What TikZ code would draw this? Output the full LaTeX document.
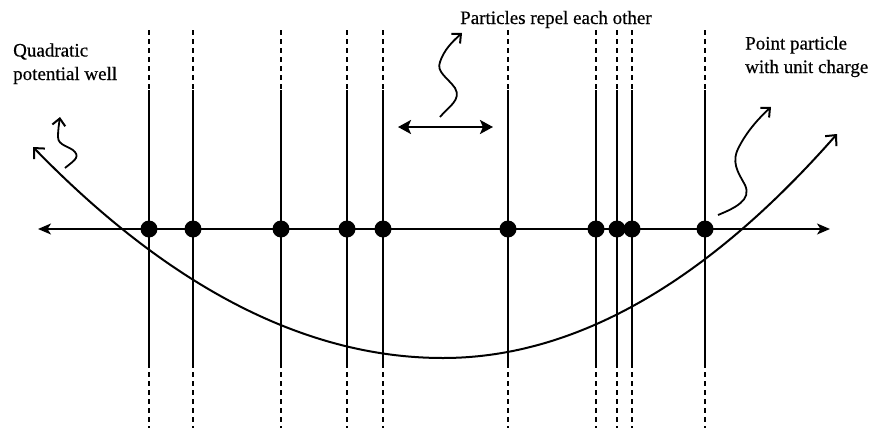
\documentclass[tikz,border=0pt]{standalone}
\usepackage{fontspec}
\setmainfont{Liberation Serif}
\newfontfamily\labelfont{Liberation Serif}[FakeBold=0.5]
\usetikzlibrary{arrows.meta}
\begin{document}
\begin{tikzpicture}[x=1pt,y=-1pt,
  particle/.style={circle,fill=black,inner sep=0pt,minimum size=17pt},
  solidline/.style={line width=1.8pt},
  dashline/.style={line width=1.8pt,dash pattern=on 5pt off 4pt},
  axisline/.style={line width=1.6pt,{Stealth[length=13pt,width=11pt,inset=3.5pt]}-{Stealth[length=13pt,width=11pt,inset=3.5pt]}},
  wellline/.style={line width=2pt,{Straight Barb[length=8pt,width=15pt,line width=2pt]}-{Straight Barb[length=8pt,width=15pt,line width=2pt]}},
  squiggle/.style={line width=1.8pt,-{Straight Barb[length=7pt,width=13pt,line width=2pt]}},
  repel/.style={line width=2.8pt,{Stealth[length=13pt,width=14pt,inset=3pt]}-{Stealth[length=13pt,width=14pt,inset=3pt]}},
  label/.style={inner sep=0pt,align=left,font=\labelfont\fontsize{19}{23.5}\selectfont}
]
\useasboundingbox (0,0) rectangle (876,434);

% vertical lines with particles
\foreach \i/\x in {1/149,2/193,3/281,4/347,5/383,6/508,7/596,8/617,9/632,10/705}{
  \coordinate (t\i) at (\x,30);
  \coordinate (u\i) at (\x,90);
  \coordinate (l\i) at (\x,363);
  \coordinate (b\i) at (\x,428);
  \draw[dashline] (t\i) -- (u\i);
  \draw[solidline] (u\i) -- (l\i);
  \draw[dashline] (l\i) -- (b\i);
}

% axis
\coordinate (axL) at (38,229);
\coordinate (axR) at (830,229);
\draw[axisline] (axL) -- (axR);

% quadratic well
\coordinate (wL) at (33,147);
\coordinate (wV) at (443,358);
\coordinate (wR) at (837,134);
\draw[wellline] (wL) .. controls (169.7,287.7) and (306.3,358) .. (wV)
  .. controls (574.3,358) and (705.7,283.3) .. (wR);

% particles
\foreach \i/\x in {1/149,2/193,3/281,4/347,5/383,6/508,7/596,8/617,9/632,10/705}{
  \node[particle] (p\i) at (\x,229) {};
}

% repel arrow
\coordinate (rL) at (398,127);
\coordinate (rR) at (493,127);
\draw[repel] (rL) -- (rR);

% labels
\node[label,anchor=base west] (lwell) at (13,80) {Quadratic\\potential well};
\node[label,anchor=base west] (lrepel) at (460,24) {Particles repel each other};
\node[label,anchor=base west] (lpart) at (745,73) {Point particle\\with unit charge};

% squiggly pointers
\coordinate (s1a) at (65,168);
\coordinate (s1b) at (60,117);
\draw[squiggle] (s1a) .. controls (72,162) and (80,158) .. (75,152)
  .. controls (70,146) and (58,146) .. (58,137) .. controls (58,130) and (59,124) .. (s1b);

\coordinate (s2a) at (440,117);
\coordinate (s2b) at (462,33);
\draw[squiggle] (s2a) .. controls (448,107) and (462,100) .. (455,88)
  .. controls (448,78) and (436,72) .. (440,62) .. controls (444,50) and (452,42) .. (s2b);

\coordinate (s3a) at (718,215);
\coordinate (s3b) at (771,107);
\draw[squiggle] (s3a) .. controls (735,208) and (752,200) .. (745,185)
  .. controls (738,172) and (730,162) .. (740,145) .. controls (748,130) and (760,117) .. (s3b);
\end{tikzpicture}
\end{document}
